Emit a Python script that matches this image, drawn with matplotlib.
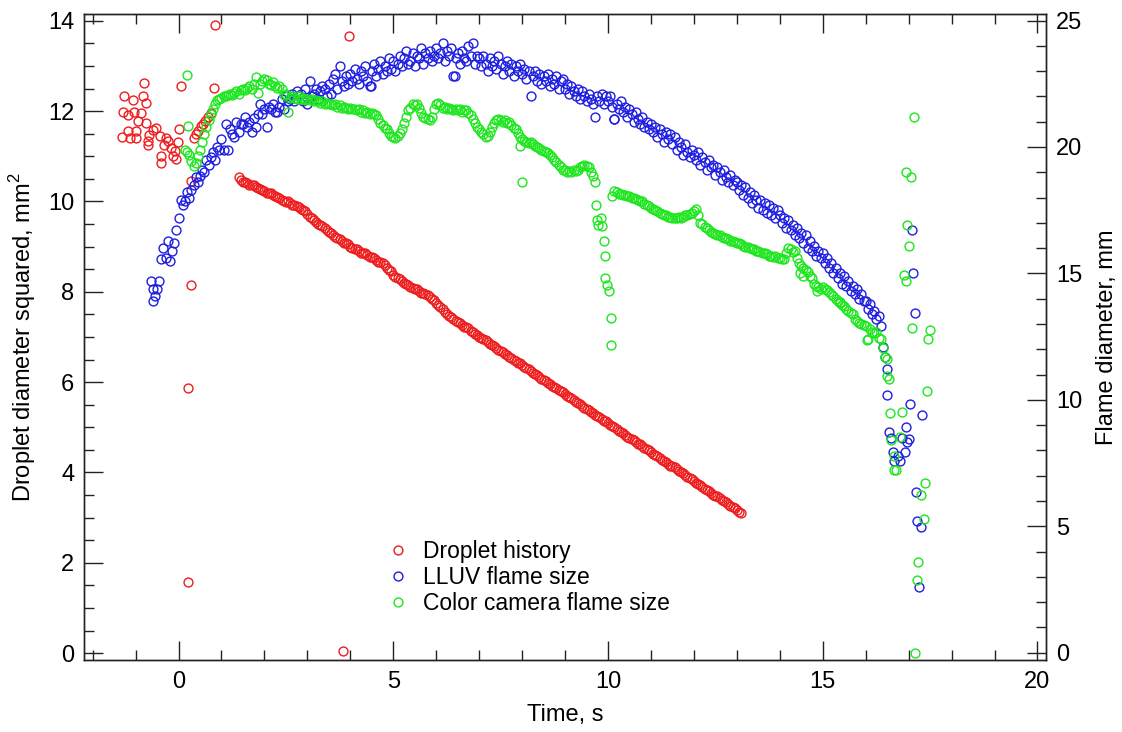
import numpy as np
import matplotlib
matplotlib.use("Agg")
import matplotlib.pyplot as plt
from matplotlib.ticker import MultipleLocator

plt.rcParams['font.family'] = ['Liberation Sans', 'DejaVu Sans']

# ---------------- DATA ----------------
# Droplet history (left axis, mm^2)
red_main_t = np.round(np.arange(1.4, 13.1001, 0.1), 2)
red_main_y = [
    10.55, 10.42, 10.40, 10.36, 10.33, 10.27, 10.23, 10.18, 10.15, 10.09,
    10.04, 9.99, 9.97, 9.92, 9.87, 9.81, 9.72, 9.63, 9.55, 9.47,
    9.41, 9.33, 9.26, 9.19, 9.13, 9.07, 9.00, 8.95, 8.91, 8.86,
    8.82, 8.76, 8.71, 8.66, 8.60, 8.49, 8.38, 8.31, 8.25, 8.17,
    8.11, 8.07, 8.02, 7.97, 7.93, 7.85, 7.76, 7.67, 7.56, 7.46,
    7.40, 7.33, 7.27, 7.21, 7.14, 7.07, 7.01, 6.95, 6.88, 6.82,
    6.75, 6.69, 6.63, 6.56, 6.50, 6.43, 6.38, 6.31, 6.24, 6.18,
    6.11, 6.05, 5.99, 5.92, 5.86, 5.80, 5.73, 5.67, 5.60, 5.54,
    5.47, 5.41, 5.35, 5.28, 5.22, 5.15, 5.09, 5.03, 4.96, 4.90,
    4.83, 4.77, 4.71, 4.64, 4.58, 4.51, 4.45, 4.39, 4.33, 4.26,
    4.19, 4.14, 4.07, 4.00, 3.94, 3.87, 3.81, 3.75, 3.68, 3.62,
    3.55, 3.49, 3.43, 3.36, 3.30, 3.23, 3.17, 3.11]
red_mid_t = np.round(np.arange(1.45, 13.0501, 0.1), 2)
red_mid_y = [
    10.47, 10.43, 10.37, 10.36, 10.29, 10.26, 10.19, 10.18, 10.11, 10.08,
    10.00, 10.00, 9.93, 9.91, 9.83, 9.78, 9.66, 9.60, 9.50, 9.45,
    9.36, 9.31, 9.22, 9.17, 9.09, 9.05, 8.96, 8.94, 8.87, 8.85,
    8.78, 8.75, 8.67, 8.64, 8.53, 8.45, 8.33, 8.29, 8.20, 8.15,
    8.08, 8.06, 7.98, 7.96, 7.88, 7.82, 7.70, 7.63, 7.50, 7.44,
    7.36, 7.31, 7.23, 7.19, 7.10, 7.05, 6.97, 6.93, 6.84, 6.80,
    6.71, 6.67, 6.59, 6.54, 6.46, 6.42, 6.33, 6.29, 6.20, 6.16,
    6.07, 6.03, 5.95, 5.90, 5.82, 5.78, 5.69, 5.65, 5.56, 5.52,
    5.43, 5.39, 5.31, 5.26, 5.18, 5.13, 5.05, 5.01, 4.92, 4.88,
    4.79, 4.75, 4.67, 4.62, 4.54, 4.49, 4.41, 4.37, 4.28, 4.24,
    4.15, 4.12, 4.03, 3.98, 3.90, 3.85, 3.77, 3.73, 3.64, 3.60,
    3.51, 3.47, 3.39, 3.34, 3.26, 3.21, 3.13]
red_scatter_t = [-1.26, -1.06, -0.83, -0.81, -0.75, -1.30, -1.18, -1.04, -0.87, -0.95,
                 -0.75, -1.32, -1.14, -0.99, -1.18, -0.99, -0.60, -0.52, -0.68, -0.44,
                 -0.72, -0.70, -0.29, -0.25, -0.33, -0.17, -0.09, -0.13, -0.05, -0.40,
                 -0.40, -0.02, 0.02, 0.06, 0.37, 0.45, 0.53, 0.61, 0.68, 0.76,
                 0.28, 0.30, 0.82, 0.23, 0.23, 0.86, 3.96, 3.82, 0.41, 0.57]
red_scatter_y = [12.34, 12.24, 12.34, 12.62, 12.19, 11.99, 11.92, 11.97, 11.96, 11.77,
                 11.73, 11.42, 11.40, 11.40, 11.56, 11.56, 11.59, 11.62, 11.48, 11.44,
                 11.25, 11.33, 11.40, 11.33, 11.25, 11.18, 11.11, 11.00, 10.94, 11.00,
                 10.85, 11.31, 11.60, 12.55, 11.40, 11.55, 11.66, 11.77, 11.88, 11.96,
                 10.45, 8.14, 12.51, 5.87, 1.57, 13.91, 13.67, 0.04, 11.50, 11.72]

# LLUV flame size (right axis, mm)
blue_main_t = np.round(np.arange(-0.6, 16.5001, 0.05), 2)
blue_main_y = [
    14.4, 14.1, 14.4, 14.7, 15.55, 16.0, 15.6, 16.3, 15.5, 15.9, 16.2, 16.7,
    17.2, 17.9, 17.7, 17.85, 18.2, 18.0, 18.3, 18.5, 18.8, 18.6, 18.85, 19.1, 19.0, 19.5, 19.3, 19.6, 19.8, 19.5, 20.0, 19.9,
    20.3, 19.9, 20.9, 19.9, 20.7, 20.5, 20.4, 21.0, 20.6, 20.9, 20.9, 21.2, 20.8, 21.0, 20.6, 21.15, 20.8, 21.3, 21.7, 21.3,
    21.5, 20.8, 21.6, 21.5, 21.7, 21.4, 21.4, 21.6, 21.9, 21.5, 22.0, 21.8, 21.9, 22.1, 21.8, 22.2, 22.0, 22.1, 21.8, 22.3,
    21.7, 22.6, 22.0, 22.1, 22.3, 21.9, 22.2, 22.4, 22.3, 22.0, 22.5, 22.1, 22.7, 22.9, 22.3, 23.2, 22.6, 22.4, 22.8, 22.5,
    22.9, 22.6, 23.1, 22.7, 22.5, 23.0, 22.8, 23.2, 22.6, 22.4, 23.0, 23.3, 22.8, 23.1, 23.4, 22.9, 23.2, 23.0, 23.5, 23.1,
    23.4, 23.0, 23.3, 23.6, 23.2, 23.5, 23.8, 23.3, 23.4, 23.7, 23.2, 23.6, 23.5, 23.9, 23.3, 23.7, 23.5, 23.8, 23.4, 23.6,
    23.9, 23.5, 23.7, 24.1, 23.4, 23.8, 23.6, 23.9, 22.8, 23.5, 23.7, 23.3, 23.8, 23.5, 23.4, 24.0, 23.6, 24.1, 23.3, 23.6,
    23.5, 23.2, 23.6, 23.3, 23.0, 23.5, 23.2, 23.4, 23.1, 23.6, 23.3, 22.9, 23.2, 23.4, 23.0, 23.3, 22.8, 23.2, 23.0, 23.3,
    22.9, 23.1, 22.7, 23.0, 22.0, 22.8, 23.0, 22.6, 22.9, 22.5, 22.8, 22.6, 22.9, 22.4, 22.7, 22.5, 22.8, 22.3, 22.6, 22.7,
    22.3, 22.5, 22.1, 22.4, 22.2, 22.0, 22.3, 21.9, 22.2, 22.0, 21.8, 22.1, 21.9, 21.7, 21.2, 22.0, 21.8, 22.1, 21.7, 22.0,
    21.8, 22.0, 21.6, 21.1, 21.7, 21.5, 21.8, 21.4, 21.6, 21.2, 21.5, 21.3, 21.0, 21.4, 21.1, 20.9, 21.2, 20.8, 21.0, 20.7,
    20.9, 20.6, 20.8, 20.4, 20.7, 20.5, 20.2, 20.6, 20.3, 20.5, 20.1, 20.4, 19.9, 20.2, 20.0, 19.7, 20.1, 19.8, 19.6, 19.9,
    19.7, 19.5, 19.8, 19.3, 19.6, 19.4, 19.1, 19.5, 19.2, 19.3, 18.9, 19.2, 19.0, 18.7, 19.1, 18.8, 18.6, 18.9, 18.5, 18.7,
    18.6, 18.3, 18.5, 18.1, 18.4, 18.0, 18.2, 17.8, 18.1, 17.9, 17.6, 17.9, 17.5, 17.8, 17.4, 17.7, 17.3, 17.6, 17.2, 17.5,
    17.3, 17.0, 17.2, 16.8, 17.1, 16.7, 16.9, 16.5, 16.8, 16.4, 16.6, 16.2, 16.5, 16.0, 16.3, 15.9, 16.1, 15.7, 15.9, 15.6,
    15.8, 15.4, 15.6, 15.2, 15.4, 15.0, 15.2, 14.8, 15.0, 14.6, 14.9, 14.5, 14.7, 14.3, 14.5, 14.2, 14.4, 14.0, 14.2, 13.9,
    13.9, 13.6, 13.8, 13.4, 13.5, 13.2, 13.3, 12.9, 12.1, 11.7, 11.2]
blue_extra_t = [-0.64, -0.60, 16.50, 16.54, 16.58, 16.64, 16.66, 16.75, 16.81, 16.85, 16.91,
                16.94, 16.97, 17.00, 17.04, 17.08, 17.11, 17.14, 17.18, 17.20, 17.24,
                17.28, 17.32, 6.43, 4.49, 10.14]
blue_extra_y = [14.69, 13.90, 10.18, 8.72, 8.49, 7.92, 7.57, 7.77, 7.57, 8.49, 7.92,
                8.91, 8.32, 8.45, 9.84, 16.70, 15.02, 13.44, 6.34, 5.19, 2.58,
                4.97, 9.38, 22.8, 22.4, 21.1]

# Color camera flame size (right axis, mm)
green_a_t = np.round(np.arange(0.15, 9.7001, 0.05), 2)
green_a_y = [
    19.9, 19.8, 19.7, 19.45, 19.25, 19.37, 19.63, 19.9, 20.2, 20.5, 20.8, 21.05, 21.3, 21.5, 21.7, 21.85, 21.9,
    21.95, 22.0, 22.0, 22.05, 22.1, 22.05, 22.15, 22.2, 22.1, 22.25, 22.3, 22.25, 22.35, 22.4, 22.3, 22.5, 22.75, 22.15, 22.5, 22.6,
    22.7, 22.65, 22.5, 22.45, 22.55, 22.4, 22.35, 22.4, 22.3, 22.05, 22.1, 21.4, 21.95, 22.0, 21.95, 21.9, 22.0, 21.9, 21.95, 21.85,
    21.9, 21.85, 21.9, 21.8, 21.85, 21.8, 21.75, 21.8, 21.7, 21.75, 21.7, 21.7, 21.65, 21.7, 21.6, 21.65, 21.55, 21.6, 21.55, 21.5,
    21.55, 21.5, 21.5, 21.45, 21.5, 21.4, 21.45, 21.35, 21.4, 21.3, 21.35, 21.3, 21.25, 21.1, 20.95, 20.85, 20.75, 20.7, 20.55, 20.45,
    20.4, 20.35, 20.45, 20.55, 20.7, 20.95, 21.2, 21.45, 21.55, 21.7, 21.65, 21.7, 21.55, 21.35, 21.2, 21.15, 21.1, 21.05, 21.2, 21.5,
    21.7, 21.75, 21.65, 21.55, 21.6, 21.5, 21.55, 21.5, 21.45, 21.5, 21.45, 21.5, 21.4, 21.45, 21.45, 21.35, 21.25, 21.1, 20.95, 20.8,
    20.7, 20.6, 20.5, 20.4, 20.45, 20.6, 20.8, 20.95, 21.05, 21.1, 21.05, 21.0, 21.05, 20.95, 21.0, 20.85, 20.75, 20.7, 20.55, 20.4,
    20.3, 20.25, 20.2, 20.15, 20.2, 20.1, 20.05, 20.0, 19.95, 19.9, 19.85, 19.8, 19.75, 19.7, 19.6, 19.5, 19.4, 19.3, 19.2, 19.1,
    19.1, 19.0, 19.05, 19.0, 19.1, 19.05, 19.1, 19.2, 19.25, 19.3, 19.25, 19.2, 19.0, 18.85, 18.6]
green_dive_t = [9.71, 9.75, 9.77, 9.83, 9.87, 9.90, 9.92, 9.94, 9.98, 10.02, 10.06, 10.08]
green_dive_y = [17.72, 17.13, 16.90, 17.20, 16.86, 16.27, 15.68, 14.82, 14.56, 14.29, 13.24, 12.18]
green_b_t = np.round(np.arange(10.1, 16.5001, 0.05), 2)
green_b_y = [
    18.05, 18.25, 18.2, 18.15, 18.15, 18.1, 18.1, 18.05, 18.05, 18.0, 17.98, 17.95, 17.9, 17.85, 17.85, 17.75, 17.7, 17.65,
    17.6, 17.55, 17.5, 17.45, 17.4, 17.35, 17.3, 17.3, 17.25, 17.25, 17.2, 17.2, 17.2, 17.25, 17.2, 17.25, 17.3, 17.3, 17.35, 17.4,
    17.45, 17.55, 17.3, 17.0, 16.95, 16.85, 16.8, 16.7, 16.65, 16.6, 16.55, 16.5, 16.5, 16.45, 16.4, 16.4, 16.35, 16.3, 16.3, 16.25,
    16.2, 16.2, 16.15, 16.1, 16.05, 16.05, 16.0, 15.95, 15.95, 15.9, 15.9, 15.85, 15.8, 15.8, 15.75, 15.7, 15.7, 15.65, 15.7, 15.6,
    15.6, 15.55, 15.55, 15.8, 16.0, 15.95, 15.85, 15.9, 15.6, 15.4, 15.3, 15.2, 15.15, 15.05, 14.9, 14.8, 14.6, 14.5, 14.45, 14.4,
    14.45, 14.4, 14.35, 14.25, 14.2, 14.1, 14.0, 13.9, 13.85, 13.75, 13.7, 13.6, 13.5, 13.45, 13.4, 13.2, 13.1, 13.05, 13.0, 12.95,
    12.9, 12.4, 12.8, 12.7, 12.65, 12.7, 12.45, 12.4, 12.05, 11.7, 11.6]
green_extra_t = [0.20, 0.22, 8.00, 7.96, 14.48, 14.55, 14.87, 15.41, 16.03,
                 16.50, 16.54, 16.56, 16.58, 16.66, 16.66, 16.70, 16.81, 16.85, 16.89, 16.93,
                 16.95, 16.97, 17.02, 17.06, 17.08, 17.12, 17.16, 17.20, 17.22, 17.28,
                 17.35, 17.39, 17.42, 17.45, 17.49]
green_extra_y = [22.86, 20.82, 18.62, 20.03, 15.02, 14.90, 14.29, 13.83, 12.38,
                 10.94, 10.84, 9.48, 8.43, 7.77, 7.24, 7.24, 8.53, 9.52, 14.95, 14.69,
                 19.00, 16.93, 16.07, 18.82, 12.84, 21.20, 0.00, 2.89, 3.57, 6.25,
                 5.29, 6.71, 10.34, 12.41, 12.78]

labels = ["Droplet history", "LLUV flame size", "Color camera flame size"]
colors = ["#ee1c1c", "#1e1ee0", "#1ee61e"]

# ---------------- PLOT ----------------
fig = plt.figure(figsize=(11.22, 7.32), dpi=100)
ax = fig.add_axes([0.0749, 0.0984, 0.8574, 0.8825])
ax2 = ax.twinx()

mk = dict(ls='none', marker='o', mfc='none', ms=6.4, mew=1.0)

h_red, = ax.plot(red_main_t, red_main_y, mec=colors[0], **mk)
ax.plot(red_mid_t, red_mid_y, mec=colors[0], **mk)
ax.plot(red_scatter_t, red_scatter_y, mec=colors[0], **mk)

h_blue, = ax2.plot(blue_main_t, blue_main_y, mec=colors[1], **mk)
ax2.plot(blue_extra_t, blue_extra_y, mec=colors[1], **mk)

h_green, = ax2.plot(green_a_t, green_a_y, mec=colors[2], **mk)
ax2.plot(green_dive_t, green_dive_y, mec=colors[2], **mk)
ax2.plot(green_b_t, green_b_y, mec=colors[2], **mk)
ax2.plot(green_extra_t, green_extra_y, mec=colors[2], **mk)

ax.set_xlim(-2.2, 20.2)
ax.set_ylim(-0.15, 14.15)
ax2.set_ylim(-0.29, 25.26)

ax.xaxis.set_major_locator(MultipleLocator(5))
ax.xaxis.set_minor_locator(MultipleLocator(1))
ax.yaxis.set_major_locator(MultipleLocator(2))
ax.yaxis.set_minor_locator(MultipleLocator(0.5))
ax2.yaxis.set_major_locator(MultipleLocator(5))
ax2.yaxis.set_minor_locator(MultipleLocator(1))

tc = '#222222'
fs = 17
ax.tick_params(axis='x', which='both', direction='in', top=True, bottom=True,
               labelsize=fs, pad=8, color=tc, width=1.0)
ax.tick_params(axis='y', which='both', direction='in', left=True, right=False,
               labelsize=fs, pad=7, color=tc, width=1.0)
ax2.tick_params(axis='y', which='both', direction='in', right=True, left=False,
                labelsize=fs, pad=7, color=tc, width=1.0)
for a in (ax, ax2):
    a.tick_params(which='major', length=14)
    a.tick_params(which='minor', length=7.5)
    for s in a.spines.values():
        s.set_linewidth(1.0)
        s.set_color(tc)

ax.set_xlabel("Time, s", fontsize=fs, labelpad=8)
ax.set_ylabel(r"Droplet diameter squared, mm$^{\mathregular{2}}$", fontsize=fs, labelpad=7)
ax2.set_ylabel("Flame diameter, mm", fontsize=fs, labelpad=10)

ax2.legend([h_red, h_blue, h_green], labels, loc='upper left',
           bbox_to_anchor=(0.3145, 0.185), frameon=False, borderpad=0,
           borderaxespad=0, handlelength=1.0, handletextpad=0.6,
           labelspacing=0.12, numpoints=1, fontsize=16.5)

fig.savefig("out.png", dpi=100)
